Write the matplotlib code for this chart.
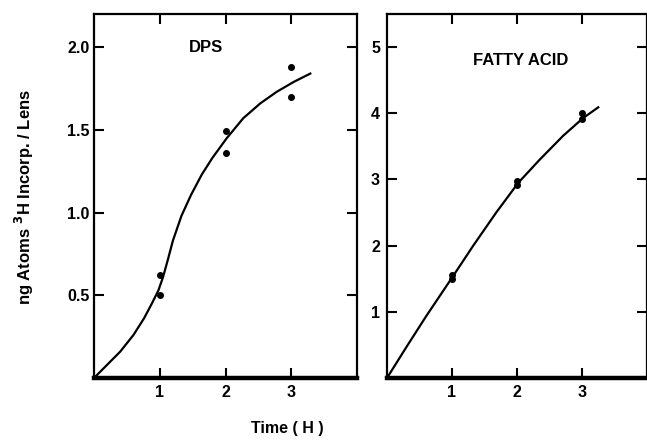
import matplotlib
matplotlib.use('Agg')
import matplotlib.pyplot as plt

plt.rcParams['font.family'] = ['Liberation Sans', 'DejaVu Sans']
plt.rcParams['font.weight'] = 'bold'

dps_x = [1, 1, 2, 2, 3, 3]
dps_y = [0.62, 0.50, 1.49, 1.36, 1.88, 1.70]
dps_curve_x = [0, 0.20, 0.40, 0.60, 0.76, 0.88, 0.98, 1.05, 1.12, 1.20, 1.33, 1.48,
               1.64, 1.80, 2.02, 2.27, 2.53, 2.78, 3.04, 3.29]
dps_curve_y = [0, 0.08, 0.16, 0.26, 0.36, 0.45, 0.53, 0.61, 0.71, 0.83, 0.98, 1.11,
               1.23, 1.33, 1.45, 1.57, 1.66, 1.73, 1.79, 1.84]

# fatty acid panel
fa_x = [1, 1, 2, 2, 3, 3]
fa_y = [1.56, 1.49, 2.97, 2.92, 4.0, 3.91]
fa_curve_x = [0, 0.30, 0.60, 1.01, 1.32, 1.68, 2.02, 2.35, 2.71, 3.02, 3.25]
fa_curve_y = [0, 0.47, 0.93, 1.53, 1.99, 2.50, 2.95, 3.30, 3.66, 3.93, 4.09]

x_ticks = [1, 2, 3]
dps_ticks = [0.5, 1.0, 1.5, 2.0]
dps_labels = ['0.5', '1.0', '1.5', '2.0']
fa_ticks = [1, 2, 3, 4, 5]
fa_labels = ['1', '2', '3', '4', '5']

fig = plt.figure(figsize=(6.47, 4.42), dpi=100)
ax1 = fig.add_axes([94 / 647, 64 / 442, 263 / 647, 364 / 442])
ax2 = fig.add_axes([387 / 647, 64 / 442, 260 / 647, 364 / 442])


def style(ax, yticks, ylabels, ylim, ypad):
    ax.set_xlim(0, 4)
    ax.set_ylim(0, ylim)
    ax.set_xticks(x_ticks)
    ax.set_xticklabels([str(t) for t in x_ticks])
    ax.set_yticks(yticks)
    ax.set_yticklabels(ylabels)
    ax.tick_params(direction='in', top=True, right=True, length=7, width=1.5,
                   labelsize=11.5)
    ax.tick_params(axis='x', pad=5)
    ax.tick_params(axis='y', pad=ypad)
    for s in ['left', 'right', 'top']:
        ax.spines[s].set_linewidth(1.6)
    ax.spines['bottom'].set_linewidth(3.2)


ax1.plot(dps_curve_x, dps_curve_y, color='black', lw=1.6, solid_joinstyle='round')
ax1.plot(dps_x, dps_y, 'o', color='black', ms=4)
ax1.text(1.7, 2.0, 'DPS', fontsize=12, fontweight='bold', ha='center', va='center')
style(ax1, dps_ticks, dps_labels, 2.2, 3)

ax2.plot(fa_curve_x, fa_curve_y, color='black', lw=1.6, solid_joinstyle='round')
ax2.plot(fa_x, fa_y, 'o', color='black', ms=4)
ax2.text(2.05, 4.8, 'FATTY ACID', fontsize=12, fontweight='bold', ha='center', va='center')
style(ax2, fa_ticks, fa_labels, 5.5, 5)

fig.text(287 / 647, 1 - 428 / 442, 'Time ( H )', fontsize=11.5, fontweight='bold',
         ha='center', va='center')
fig.text(24 / 647, 1 - 197 / 442, r'ng Atoms $^{\mathbf{3}}$H Incorp. / Lens', fontsize=12,
         fontweight='bold', rotation=90, ha='center', va='center')

fig.savefig('out.png', dpi=100)
